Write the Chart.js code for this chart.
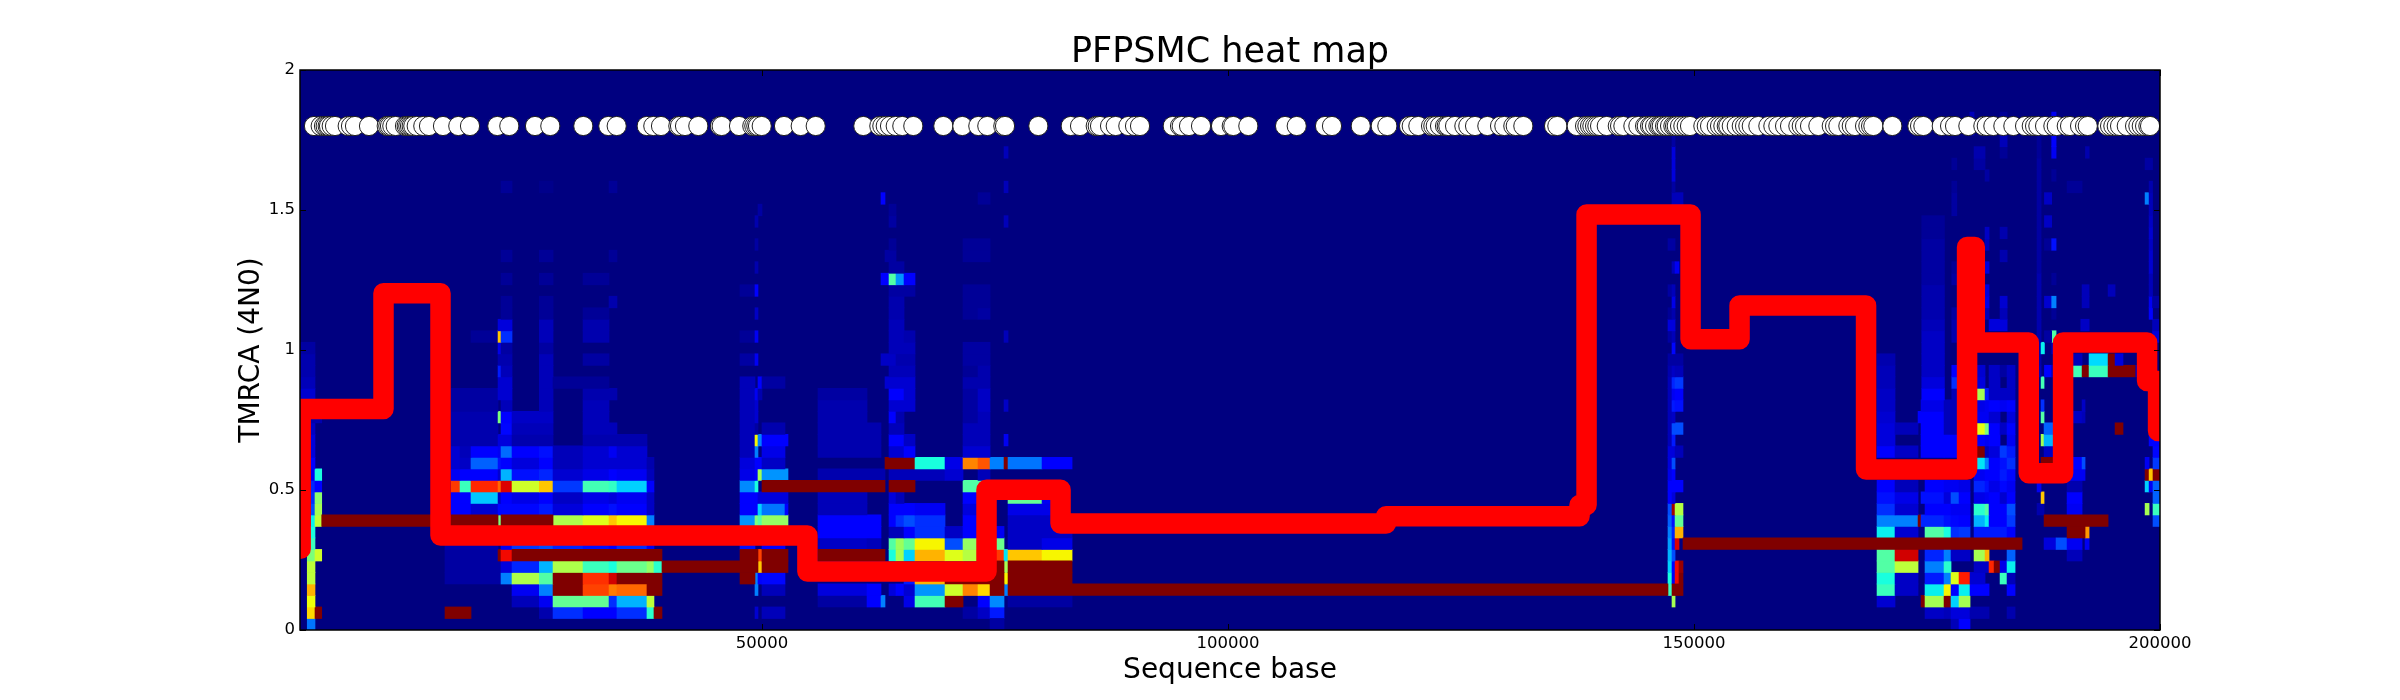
<!DOCTYPE html>
<html><head><meta charset="utf-8">
<style>html,body{margin:0;padding:0;background:#fff}#w{width:2400px;height:700px}</style>
<script src="https://cdn.jsdelivr.net/npm/chart.js@4"></script>
</head><body><div id="w"><canvas id="c" width="2400" height="700"></canvas></div>
<script>
const titleText = "PFPSMC heat map";
const xAxisLabel = "Sequence base";
const yAxisLabel = "TMRCA (4N0)";
const xTickValues = [50000, 100000, 150000, 200000];
const yTickValues = [0, 0.5, 1, 1.5, 2];
const xLimits = [430, 200000];
const yLimits = [0, 2];
const rowStep = 0.0411;

const segregatingSites = [1931,2650,3004,3187,3401,3541,3831,4185,5547,5902,6331,7833,9732,9904,10086,10333,10698,11696,11878,12050,12232,12415,12587,12951,13659,14271,15773,17415,18670,21600,22887,25645,27287,30827,33510,34411,37630,38339,39165,41022,41203,41740,43167,45495,45677,47534,48961,49176,49391,49573,49970,52362,54154,55764,
60871,62589,62911,63276,63736,64348,65056,66236,69455,71494,73210,74176,75894,76076,79649,83125,84124,85808,86023,86269,87342,87953,89306,90023,90561,94070,94853,95036,95819,97107,99253,100402,100573,102182,106123,107375,110412,111157,
114243,116389,117097,119422,119713,120423,121786,122033,122290,122751,123288,123470,123642,124361,125360,125787,126507,127829,129189,129650,130615,130873,131689,134983,135337,137419,138312,138559,138849,139095,139385,139632,139921,140640,141822,142069,142423,143496,144032,144751,144933,145287,145470,145824,146178,146360,146542,146897,147079,147430,147785,147967,148150,148503,148857,149221,149575,
151004,151369,151723,152441,152795,153150,153515,153687,154052,154588,155125,155479,155833,156198,156906,157979,158515,159052,159770,160306,161197,161562,161916,162452,163343,164780,165135,165489,166562,166927,167281,168354,168708,169000,169245,171283,173966,174255,174609,176583,177474,178010,179437,181047,181412,182120,183193,184266,185522,186241,186595,186949,187668,188559,188923,189996,190350,191423,191960,192249,194352,194642,194996,195360,195715,196434,197325,197679,198044,198398,198752,198934];
const siteLevel = 1.8;

const pathBases = [0,0,500,9389,15505,54874,74091,82033,116957,137720,138472,149630,154888,168461,179301,180125,185919,189601,198615,199793];
const pathTimes = [0,0.29,0.789,1.2025,0.3375,0.209,0.501,0.38,0.406,0.446,1.484,1.038,1.159,0.573,1.368,1.027,0.56,1.027,0.889,0.711];

// each row: [rowIndex, startKb, endKb, level, startKb, endKb, level, ...]
const leftStrip = [
[0,1.21,2.04,.24],[1,1.21,2.04,.68,2.04,2.76,1],[2,1.21,2.04,.64],[3,1.21,2.04,.72],[4,1.21,2.04,.58],[5,1.21,2.04,.58],
[6,1.21,2.04,.5,2.04,2.76,.6],[7,1.21,2.04,.42],[8,1.21,2.04,.38],[9,1.61,2.04,.36,2.04,2.76,.58],[10,1.61,2.04,.2,2.04,2.76,.55],
[11,1.61,2.04,.17,2.04,2.76,.52],[12,1.61,2.04,.16,2.04,2.76,.12],[13,1.61,2.04,.1,2.04,2.76,.38],[14,1.61,2.04,.12],[15,1.61,2.04,.08],[16,1.61,2.04,.08],[17,1.61,2.04,.06],[18,1.61,2.76,.04],[19,.43,2.76,.03],
[20,.43,2.04,.07],[21,.43,2.04,.05],[22,.43,2.04,.04],[23,.43,2.04,.04],[24,.43,2.04,.03]];

const towerA = [
[1,26.11,27.58,.04,27.58,30.8,.17,30.8,34.44,.11,34.44,37.66,.17,37.66,38.41,.4,38.41,39.27,1],
[2,23.18,26.11,.05,26.11,27.58,.1,27.58,33.59,.47,33.59,34.44,.17,34.44,37.66,.3,37.66,38.41,.58],
[3,23.18,26.11,.1,26.11,27.58,.25,27.58,30.8,1,30.8,33.59,.84,33.59,34.44,.78,34.44,37.66,.8,37.66,39.27,1],
[4,15.99,22,.03,22,23.18,.25,23.18,26.11,.56,26.11,27.58,.45,27.58,30.8,1,30.8,33.59,.86,33.59,34.44,.93,34.44,39.27,1],
[5,15.99,22,.03,22,23.18,.08,23.18,26.11,.16,26.11,27.58,.3,27.58,30.8,.56,30.8,33.59,.42,33.59,34.44,.38,34.44,37.66,.48,37.66,38.41,.53,38.41,39.27,.4],
[6,15.99,21.68,.03,21.68,22,1,22,23.18,.9],
[7,15.99,21.68,.04,22,23.18,.1,23.18,26.11,.18,26.11,27.58,.2,27.58,30.8,.16,30.8,33.59,.14,33.59,34.44,.11,34.44,37.66,.17,37.66,38.41,.1],
[8,23.18,37.66,.12],
[9,21.68,22,.5,27.58,30.8,.56,30.8,33.59,.62,33.59,34.44,.7,34.44,37.66,.65,37.66,38.41,.25],
[10,16.63,17.6,.11,17.6,18.78,.12,18.78,21.68,.07,21.68,22,.13,22,26.11,.13,26.11,27.58,.15,27.58,30.8,.08,30.8,33.59,.11,33.59,34.44,.14,34.44,37.66,.12,37.66,38.41,.06],
[11,16.63,18.78,.11,18.78,21.68,.32,21.68,22,.06,22,23.18,.11,23.18,26.11,.09,26.11,27.58,.11,27.58,30.8,.06,30.8,33.59,.09,33.59,34.44,.08,34.44,37.66,.1,37.66,38.41,.06],
[12,16.63,17.6,.85,17.6,18.78,.42,18.78,21.68,.87,21.68,22,.8,22,23.18,.92,23.18,26.11,.6,26.11,27.58,.7,27.58,30.8,.18,30.8,33.59,.43,33.59,34.44,.41,34.44,37.66,.33,37.66,38.41,.11],
[13,16.63,17.6,.1,17.6,18.78,.11,18.78,21.68,.12,21.68,22,.07,22,23.18,.3,23.18,26.11,.14,26.11,27.58,.16,27.58,30.8,.07,30.8,33.59,.09,33.59,34.44,.11,34.44,37.66,.1,37.66,38.41,.05],
[14,16.63,17.6,.07,17.6,18.78,.06,18.78,21.68,.22,21.68,22,.14,22,23.18,.11,23.18,26.11,.08,26.11,27.58,.11,27.58,30.8,.05,30.8,37.66,.07,37.66,38.41,.04],
[15,16.63,17.6,.07,17.6,18.78,.05,18.78,21.68,.11,21.68,22,.1,22,23.18,.23,23.18,26.11,.11,26.11,27.58,.14,27.58,30.8,.05,30.8,33.59,.07,33.59,34.44,.1,34.44,37.66,.07],
[16,16.63,21.68,.04,21.68,23.18,.08,23.18,27.58,.04,30.8,37.66,.04],
[17,16.63,21.68,.04,22,23.18,.13,23.18,27.58,.05,30.8,34.44,.05],
[18,16.63,21.68,.04,21.68,22,.5,22,23.18,.11,23.18,27.58,.06,30.8,33.59,.05],
[19,16.63,21.68,.03,22,23.18,.05,26.11,27.58,.05,30.8,33.59,.05],
[20,16.63,21.68,.03,21.68,23.18,.07,26.11,27.58,.05,30.8,34.44,.04],
[21,21.68,23.18,.07,26.11,27.58,.05,27.58,33.59,.02],
[22,21.68,22,.15,22,23.18,.05,26.11,27.58,.05],
[23,21.68,23.18,.04,26.11,27.58,.05,30.8,33.59,.03],
[24,21.68,22,.09,22,23.18,.03,26.11,27.58,.03],
[25,18.78,21.68,.02,21.68,22,.7,22,23.18,.17,26.11,27.58,.05,30.8,33.59,.04],
[26,21.68,23.18,.08,26.11,27.58,.05,30.8,33.59,.04],
[27,22,23.18,.02,26.11,27.58,.02,30.8,33.59,.02],[28,22,23.18,.02,26.11,27.58,.02,33.59,34.44,.04],[30,22,23.18,.02,26.11,27.58,.02,30.8,33.59,.02],[32,22,23.18,.02,26.11,27.58,.02,33.59,34.44,.02],[38,22,23.18,.02,26.11,27.58,.01,33.59,34.44,.02]];

const towerB = [
[1,49.25,49.57,.07,50,52.47,.05],[3,49.25,49.57,.25,50,52.47,.05],[4,49.25,49.57,.25,49.57,50,.12,50,52.47,.13],[5,49.57,50,.7],[6,49.57,50,.84],
[7,47.64,49.25,.14,50,52.47,.12],[8,47.64,52.79,.12],
[9,47.64,49.25,.27,49.25,49.57,.5,49.57,50,.45,50,52.79,.53],
[10,47.64,49.25,.12,49.25,49.57,.11,49.57,50,.33,50,52.47,.24,52.47,52.79,.11],
[11,47.64,49.57,.12,49.57,52.79,.08],[12,47.64,49.25,.26,49.25,49.57,.38],
[13,47.64,49.25,.09,49.25,49.57,.11,49.57,50,.55,50,52.79,.27],
[14,47.64,49.25,.08,49.25,50,.11,50,52.47,.06],[15,47.64,49.25,.05,49.25,49.57,.25,50,52.47,.09],
[16,47.64,49.25,.05,49.25,49.57,.65,49.57,50,.25,50,52.47,.12,52.47,52.79,.11],
[17,47.64,49.25,.05,49.25,49.57,.03,50,52.47,.04],[18,47.64,49.25,.05,49.25,49.57,.07],[19,47.64,49.25,.05,49.25,49.57,.07],
[20,47.64,49.25,.05,49.25,49.57,.1,49.57,50,.04],[21,47.64,49.25,.05,49.57,50,.12,50,52.47,.03],[23,47.64,49.25,.03,49.25,49.57,.1],[25,47.64,49.25,.02,49.25,49.57,.1],[27,49.25,49.57,.06],[29,47.64,49.25,.02,49.25,49.57,.11],[31,49.25,49.57,.04],[35,49.25,49.57,.04],[36,49.57,50,.03],[33,49.25,49.57,.03]];

const towerMid = [
[1,71.57,73.18,.03,73.18,74.47,.06,74.47,75.97,.15,52.47,56.01,0],
[0,74.47,75.97,.03],
[2,56.01,61.27,.03,61.27,62.77,.11,62.77,63.2,.25,65.24,66.42,.09,66.42,69.64,.43,69.64,71.57,1,73.18,74.47,.11,74.47,75.97,.26,76.4,83.27,.03],
[3,56.01,61.27,.08,61.27,62.77,.12,63.63,64.38,.08,64.38,65.24,.11,65.24,66.42,.07,66.42,69.64,.27,69.64,71.57,.6,71.57,73.18,.77,73.18,74.47,.68,75.97,76.4,.25],
[4,65.24,66.42,.15,66.42,69.64,.72,69.64,75.97,1,75.97,76.4,.65],
[5,75.97,76.4,.55],
[6,63.63,64.38,.38,64.38,65.24,.55,65.24,66.42,.33,66.42,69.64,.72,69.64,71.57,.62,71.57,74.47,.57,74.47,75.97,.85,75.97,76.4,.35,76.4,80.05,.7,80.05,83.27,.65],
[7,56.01,61.27,.06,61.27,62.77,.05,63.63,64.38,.45,64.38,65.24,.54,65.24,66.42,.47,66.42,69.64,.65,69.64,71.57,.2,71.57,74.47,.53,74.47,75.97,.48,76.4,80.05,.06,80.05,83.27,.09],
[8,56.01,62.77,.11,63.63,65.24,.05,65.24,66.42,.11,66.42,69.64,.17,69.64,71.57,.06,71.57,74.47,.11,74.47,75.97,.1,76.4,83.27,.06],
[9,56.01,62.77,.11,63.63,64.38,.12,64.38,65.24,.17,65.24,66.42,.2,66.42,69.64,.17,71.57,74.47,.11,76.4,83.27,.06],
[10,56.01,61.27,.05,63.63,66.42,.11,66.42,69.64,.1,71.57,74.47,.08,76.4,80.05,.09,80.05,81.5,.09],
[11,56.01,61.27,.05,63.63,64.38,.08,64.38,65.24,.05,71.57,73.18,.11,76.4,80.05,.47,80.05,81.5,.1],
[12,71.57,74.47,.45],[13,56.01,63.2,.04,63.63,66.42,.05,66.42,69.64,.05,69.64,71.57,.07,73.18,74.47,.05],
[14,63.2,66.42,1,66.42,69.64,.38,69.64,71.57,.09,71.57,73.18,.77,73.18,74.47,.82,74.47,75.97,.25,75.97,76.4,1,76.4,80.05,.24,80.05,83.27,.12],
[15,56.01,62.77,.04,63.63,65.24,.07,65.24,66.42,.11,71.57,74.47,.07],
[16,56.01,62.77,.04,63.63,65.24,.11,65.24,66.42,.06,71.57,74.47,.05,75.97,76.4,.1],
[17,56.01,62.77,.04,63.63,65.24,.05,71.57,74.47,.05],
[18,56.01,61.27,.04,63.63,64.38,.11,64.38,65.24,.04,71.57,73.18,.03,73.18,74.47,.05],
[19,56.01,61.27,.04,63.63,66.42,.07,71.57,73.18,.03,73.18,74.47,.06,75.97,76.4,.06],
[20,56.01,61.27,.03,63.63,65.24,.11,65.24,66.42,.07,71.57,73.18,.03,73.18,74.47,.06],
[21,63.2,66.42,.07,71.57,74.47,.04],[22,63.63,66.42,.05,71.57,73.18,.02,73.18,74.47,.04],[23,62.77,64.38,.06,64.38,66.42,.04,71.57,74.47,.03],
[24,63.63,66.42,.05,71.57,74.47,.03],[25,63.63,65.24,.05,65.24,66.42,.04,75.97,76.4,.05],[26,63.63,65.24,.05],[27,63.63,65.24,.04,71.57,73.18,.02,73.18,74.47,.03],[28,63.63,65.24,.04,71.57,74.47,.02],
[29,63.63,66.42,.03,71.57,74.47,.02],[30,62.77,63.63,.11,63.63,64.38,.45,64.38,65.24,.27,65.24,66.42,.11],[31,63.63,65.24,.03],[32,63.2,64.38,.03,71.57,74.47,.02],[33,63.63,64.38,.02,71.57,74.47,.02],[35,63.63,64.38,.03,75.97,76.4,.05],[36,63.63,64.38,.02],[37,62.77,63.2,.11,73.18,74.47,.02],[38,75.97,76.4,.05],[41,75.97,76.4,.05]];

const towerC = [
[2,147.64,147.97,.55],[3,147.21,147.64,.42],
[4,147.21,147.64,.38,147.64,147.97,.1,147.97,148.39,.9,148.39,148.82,1],
[5,147.21,147.64,.33,147.64,147.97,.11,147.97,148.39,.9,148.39,148.82,.98],
[6,147.21,147.64,.3,147.64,147.97,.2],[7,147.21,147.64,.28,147.64,147.97,.14,147.97,148.39,.92],
[8,147.21,147.64,.25,147.64,147.97,.16,147.97,148.82,.72],[9,147.21,147.64,.22,147.64,147.97,.14,147.97,148.82,.47],
[10,147.21,147.64,.2,147.64,147.97,.97,147.97,148.82,.57],[11,147.21,147.64,.12,147.64,147.97,.08],
[12,147.21,147.64,.11,147.64,147.97,.11,147.97,148.82,.11],[13,147.21,147.64,.09,147.64,147.97,.11],
[14,147.21,147.64,.08,147.64,147.97,.2],[15,147.21,147.64,.08,147.64,147.97,.08,147.97,148.82,.05],
[16,147.21,147.64,.05,147.64,147.97,.15],[17,147.21,147.64,.05,147.64,147.97,.2,147.97,148.82,.2],
[18,147.21,147.64,.05,147.64,147.97,.06],[19,147.21,147.64,.05,147.64,147.97,.15,147.97,148.82,.14],
[20,147.21,147.64,.05,147.64,147.97,.1,147.97,148.82,.11],[21,147.21,147.64,.05,147.64,147.97,.16,147.97,148.82,.18],
[22,147.21,147.64,.04,147.64,147.97,.06,147.97,148.82,.05],[23,147.21,148.82,.03],[24,147.64,147.97,.13],[25,147.21,147.64,.03,147.64,147.97,.05],
[26,147.21,147.97,.08],[27,147.21,147.64,.02,147.64,147.97,.04],[28,147.64,147.97,.09],[29,147.21,147.64,.03,147.64,147.97,.05],[31,147.64,147.97,.05,147.97,148.39,.1],
[33,147.21,147.97,.03],[36,147.64,148.82,.1],[37,147.64,148.82,.05],[38,147.64,147.97,.03],[39,147.64,147.97,.08],[40,147.64,147.97,.08],[41,147.64,147.97,.08],[42,147.64,147.97,.03],[43,147.64,147.97,.03]];

const towerD = [
[0,177.58,178.44,.05,178.44,179.62,.11],
[1,174.79,176.83,.06,176.83,177.58,.05,177.58,179.62,.08,179.62,181.66,.04,183.59,184.45,.04],
[2,169.64,171.57,.07,174.36,174.79,1,174.79,176.83,.55,176.83,177.58,1,177.58,178.44,.33,178.44,179.62,.55],
[3,169.64,171.57,.42,171.57,174.04,.06,174.79,176.83,.36,176.83,177.58,.65,177.58,178.44,.11,178.44,179.62,.36,179.62,181.66,.11,183.59,184.45,.11],
[4,169.64,171.57,.38,171.57,174.04,.06,174.79,176.83,.15,176.83,177.58,.25,177.58,178.44,.62,178.44,179.62,.88,179.62,181.23,.07,182.84,183.59,.42,183.59,184.45,.05],
[5,169.64,171.57,.45,171.57,174.04,.58,174.79,176.83,.25,176.83,177.58,.4,180.05,181.66,.06,181.66,182.2,.87,182.2,182.84,1,182.84,183.59,.09,183.59,184.45,.36],
[6,169.64,171.57,.45,171.57,174.04,.93,174.79,176.83,.16,176.83,177.58,.25,177.58,179.62,.06,180.05,181.23,.55,181.23,181.66,.72,183.59,184.45,.22,190.03,191.64,.05],
[7,187.56,188.85,.08,188.85,190.03,.2,190.03,191.64,.1,191.96,192.39,.1],
[8,169.64,171.57,.36,171.57,174.04,.07,174.79,176.83,.45,176.83,177.58,.38,177.58,178.44,.17,178.44,179.62,.18,180.05,183.59,.15,183.59,184.45,.11,191.96,192.39,.75],
[9,169.64,174.04,.25,174.04,174.36,1,174.36,176.83,.16,176.83,177.58,.14,177.58,178.44,.13,178.44,179.62,.11,180.05,181.23,.3,181.23,181.66,.36,181.66,183.59,.11,183.59,184.45,.18,199.25,200,.2],
[10,169.64,171.57,.17,171.57,174.04,.07,174.79,177.58,.11,177.58,179.62,.1,180.05,181.23,.4,181.23,181.66,.45,181.66,182.84,.11,182.84,183.59,.12,183.59,184.45,.2,186.81,187.56,.04,190.03,191.64,.1,198.4,198.83,.55,199.25,200,.42],
[11,169.64,171.57,.14,171.57,174.04,.09,174.36,176.83,.14,176.83,177.58,.08,177.58,178.44,.2,178.44,179.62,.11,180.05,181.23,.09,181.23,181.66,.1,181.66,182.84,.11,182.84,183.59,.07,183.59,184.45,.11,187.24,187.56,.7,190.03,191.64,.11,199.25,200,.22],
[12,169.64,171.57,.11,171.57,174.04,.05,174.79,176.83,.11,176.83,178.44,.1,178.44,179.62,.09,180.05,181.23,.16,181.23,181.66,.14,181.66,182.84,.09,182.84,183.59,.13,183.59,184.45,.1,186.81,187.24,.1,190.03,191.64,.04,198.4,198.83,.33,198.83,199.25,.1,199.25,200,.22],
[13,180.05,181.23,.1,181.23,182.84,.11,182.84,183.59,.15,183.59,184.45,.13,190.03,191.96,.1,198.4,198.83,1,198.83,199.25,.7,199.25,200,1],
[14,180.05,181.23,.35,181.23,181.66,.25,181.66,182.84,.11,182.84,183.59,.14,183.59,184.45,.17,190.03,191.64,.11,191.64,191.96,.2,198.4,198.83,.1,199.25,200,.18],
[15,169.64,171.57,.11,171.57,174.04,.06,174.36,176.83,.12,176.83,178.44,.11,180.05,181.23,1,181.23,181.66,.05,181.66,182.84,.08,182.84,183.59,.18,183.59,184.45,.15,187.56,188.85,.06,199.25,200,.13],
[16,169.64,171.57,.08,174.36,176.83,.11,176.83,178.44,.11,180.05,181.23,.11,181.23,181.66,.1,181.66,182.84,.11,183.59,184.45,.1,187.24,187.56,.55,187.56,188.85,.3,198.83,200,.11],
[17,169.64,171.57,.08,171.57,174.04,.05,174.36,176.83,.11,176.83,178.44,.05,180.05,181.23,.63,181.23,181.66,.5,181.66,182.84,.11,182.84,183.59,.06,183.59,184.45,.11,187.56,188.85,.22,188.85,189.2,.5,195.18,196.03,1],
[18,169.64,171.57,.07,174.04,176.83,.11,176.83,178.44,.05,180.05,181.66,.1,181.66,182.84,.07,183.59,184.45,.08,187.24,187.56,.45,190.03,191.64,.06,191.64,191.96,.05],
[19,169.64,171.57,.06,174.36,176.83,.09,176.83,178.44,.05,180.05,181.23,.09,181.23,181.66,.1,181.66,182.84,.12,182.84,183.59,.1,183.59,184.45,.11,187.24,187.56,.17,191.64,191.96,.06],
[20,169.64,171.57,.06,174.44,176.87,.11,177.66,178.2,.05,180.05,181.23,.55,181.23,181.66,.15,181.66,182.84,.06,182.84,184.45,.06,199.25,200,.03],
[21,169.64,171.57,.05,174.44,176.87,.08,177.66,178.2,.17,180.05,181.23,.08,181.66,182.84,.06,183.59,184.45,.06,187.24,187.56,.43,188.85,189.2,.43],
[22,169.64,171.57,.05,174.44,176.87,.06,177.66,178.2,.11,180.05,181.23,.07,181.66,182.84,.06,182.84,183.59,.03,183.59,184.45,.06,186.81,187.24,.05,187.6,188.38,.11,188.38,188.85,.05,190.03,191.64,.43,191.64,192.39,1,192.39,194.43,.42,194.43,197.4,1,197.4,198.4,.05],
[23,169.64,171.57,.04,174.44,176.87,.06,186.81,187.24,.04,190.03,191.64,.05,192.39,194.43,.34,194.43,195.18,1,195.18,196.03,.08],
[24,174.44,176.87,.06,186.81,187.24,.04,187.24,187.6,.36,188.38,188.85,.05],
[25,174.44,176.87,.06,177.66,178.2,.04,186.81,187.24,.04,188.38,188.85,.45,187.6,188.38,.03,199.2,200,.08],
[26,174.44,176.87,.05,177.66,178.2,.04,181.66,183.6,.08,186.81,187.24,.04,191.5,192.4,.06,199.2,200,.05],
[27,174.44,176.87,.04,177.66,178.2,.03,181.23,181.66,.05,182.84,183.6,.05,186.81,187.24,.04,188.38,188.85,.02,198.83,199.2,.12],
[28,174.44,176.87,.04,181.23,181.66,.09,182.84,183.6,.07,186.81,187.24,.04,187.6,188.38,.07,188.38,188.85,.25,191.64,192.39,.05,198.83,199.2,.1,199.2,200,.03],
[29,174.44,176.87,.04,181.23,181.66,.08,186.81,187.24,.04,191.64,192.39,.05,194.43,195.18,.05,198.83,199.2,.05],
[30,174.44,176.87,.03,177.66,178.2,.03,186.81,187.24,.04,188.38,188.85,.02,198.83,199.2,.05],
[31,174.44,176.87,.03,177.66,178.2,.02,181.23,181.66,.08,186.81,187.24,.03,198.83,199.2,.07],
[32,174.44,176.87,.03,182.84,183.6,.04,186.81,187.24,.03,198.83,199.2,.07],
[33,174.44,176.87,.03,181.23,181.66,.05,186.81,187.24,.03,187.6,188.38,.02,188.38,188.85,.14,198.83,199.2,.06],
[34,174.44,176.87,.02,181.23,181.66,.06,182.84,183.6,.04,186.81,187.24,.03,198.83,199.2,.07],
[35,174.44,176.87,.02,186.81,187.24,.03,187.6,188.38,.06,198.83,199.2,.06],
[36,177.66,178.2,.03,186.81,187.24,.03,198.83,199.2,.05],
[37,177.66,178.2,.03,186.81,187.24,.03,187.6,188.38,.06,198.4,198.83,.25,198.83,199.2,.05],
[38,177.66,178.2,.02,186.81,187.24,.03,190.03,191.64,.02,198.83,199.2,.04],
[39,181.23,181.66,.03,186.81,187.24,.03,188.38,188.85,.02],
[40,177.66,178.2,.02,180.05,181.23,.03,186.81,187.24,.03,198.4,199.2,.03],
[41,180.05,181.23,.04,182.84,183.6,.02,186.81,187.24,.02,188.38,188.85,.1,192,192.4,.04],
[42,182.84,183.6,.05,186.81,187.24,.02,188.38,188.85,.12],
[43,179.6,180.05,.06,181.23,181.66,.02,188.38,188.85,.12],
[44,179.6,180.05,.05,182.84,183.6,.02,188.38,188.85,.1]];

const darkRuns = [
[1,15.99,18.78,1],[3,76.4,147.21,1],[3,74.47,75.97,1],[4,74.47,75.97,1],[4,76.4,83.27,1],[5,74.47,75.97,1],[5,76.4,83.27,1],
[4,47.64,49.25,1],[5,39.27,49.57,1],[5,50,52.79,1],[6,23.18,39.27,1],[6,47.64,49.57,1],[6,50,52.79,1],[6,56.01,63.2,1],
[7,148.82,185.2,1],[8,190.03,191.96,1],[9,187.56,194.43,1],[9,2.76,21.68,1],[9,22,27.58,1],[3,147.64,148.82,1],
[12,50,63.2,1],[12,63.63,66.42,1],[14,187.24,188.85,1]];

const heatLayers = [leftStrip, towerA, towerB, towerMid, towerC, towerD, darkRuns];

const knots = {
  r: [[0,0],[.35,0],[.66,1],[.89,1],[1,.5]],
  g: [[0,0],[.125,0],[.375,1],[.64,1],[.91,0],[1,0]],
  b: [[0,.5],[.11,1],[.34,1],[.65,0],[1,0]]
};
function channel(k, v) {
  for (let i = 1; i < k.length; i++) {
    if (v <= k[i][0]) return k[i-1][1] + (k[i][1]-k[i-1][1]) * (v-k[i-1][0]) / (k[i][0]-k[i-1][0]);
  }
  return k[k.length-1][1];
}
function jet(v) {
  return 'rgb(' + [knots.r, knots.g, knots.b].map(k => Math.round(255*channel(k, v))).join(',') + ')';
}

const heatPoints = [], heatColors = [];
heatLayers.forEach(layer => layer.forEach(row => {
  for (let i = 1; i + 2 < row.length; i += 3) {
    if (row[i+2] <= 0) continue;
    heatPoints.push({ y: (row[0] + 0.5) * rowStep, x: [row[i] * 1000, row[i+1] * 1000] });
    heatColors.push(jet(row[i+2]));
  }
}));

const FONT = '"DejaVu Sans", sans-serif';

const frame = {
  id: 'frame',
  beforeDatasetsDraw(chart) {
    const a = chart.chartArea, g = chart.ctx;
    g.save(); g.fillStyle = jet(0); g.fillRect(a.left, a.top, a.right-a.left, a.bottom-a.top); g.restore();
  },
  afterDraw(chart) {
    const a = chart.chartArea, g = chart.ctx, L = 6;
    g.save();
    g.strokeStyle = '#000'; g.lineWidth = 1;
    g.beginPath();
    chart.scales.x.ticks.forEach(t => {
      const p = Math.round(chart.scales.x.getPixelForValue(t.value)) + .5;
      g.moveTo(p, a.bottom); g.lineTo(p, a.bottom - L);
      g.moveTo(p, a.top); g.lineTo(p, a.top + L);
    });
    chart.scales.y.ticks.forEach(t => {
      const p = Math.round(chart.scales.y.getPixelForValue(t.value)) + .5;
      g.moveTo(a.left, p); g.lineTo(a.left + L, p);
      g.moveTo(a.right, p); g.lineTo(a.right - L, p);
    });
    g.stroke();
    g.lineWidth = 1.5;
    g.strokeRect(a.left, a.top, a.right-a.left, a.bottom-a.top);
    g.restore();
  }
};

new Chart(document.getElementById('c'), {
  type: 'scatter',
  plugins: [frame],
  data: { datasets: [
    { type:'scatter', order:0, data: segregatingSites.map(x => ({x, y: siteLevel})), pointRadius: 9.6, pointBackgroundColor:'#fff', pointBorderColor:'#222', pointBorderWidth:1, showLine:false },
    { type:'line', order:1, data: pathBases.map((x,i) => ({x, y: pathTimes[i]})), stepped:'before', borderColor:'#ff0000', borderWidth:20.5, borderCapStyle:'round', borderJoinStyle:'round', pointRadius:0, fill:false, tension:0 },
    { type:'bar', order:2, indexAxis:'y', data: heatPoints, backgroundColor: heatColors, barThickness: 11.6, grouped:false, borderWidth:0 }
  ]},
  options: {
    responsive:false, animation:false, events:[],
    layout:{ padding:{ right:240 } },
    plugins:{
      legend:{display:false}, tooltip:{enabled:false},
      title:{ display:true, text:titleText, fullSize:false, color:'#000', font:{family:FONT,size:35,weight:'normal',lineHeight:0.9}, padding:{top:37,bottom:1.5} }
    },
    scales:{
      x:{ type:'linear', min:xLimits[0], max:xLimits[1], offset:false,
        grid:{display:false,drawTicks:false,offset:false}, border:{display:false},
        afterBuildTicks(s){ s.ticks = xTickValues.map(value => ({value})); },
        afterFit(s){ s.height = 70; },
        ticks:{ autoSkip:false, maxRotation:0, color:'#000', padding:4, font:{family:FONT,size:16.5}, callback:v => String(v) },
        title:{ display:true, text:xAxisLabel, color:'#000', font:{family:FONT,size:28}, padding:{top:0,bottom:12} } },
      y:{ type:'linear', min:yLimits[0], max:yLimits[1], offset:false,
        grid:{display:false,drawTicks:false,offset:false}, border:{display:false},
        afterBuildTicks(s){ s.ticks = yTickValues.map(value => ({value})); },
        afterFit(s){ s.width = 300; },
        ticks:{ autoSkip:false, color:'#000', padding:5, font:{family:FONT,size:16.5}, callback:v => String(v) },
        title:{ display:true, text:yAxisLabel, color:'#000', font:{family:FONT,size:28}, padding:{top:235,bottom:0} } }
    }
  }
});
</script></body></html>
